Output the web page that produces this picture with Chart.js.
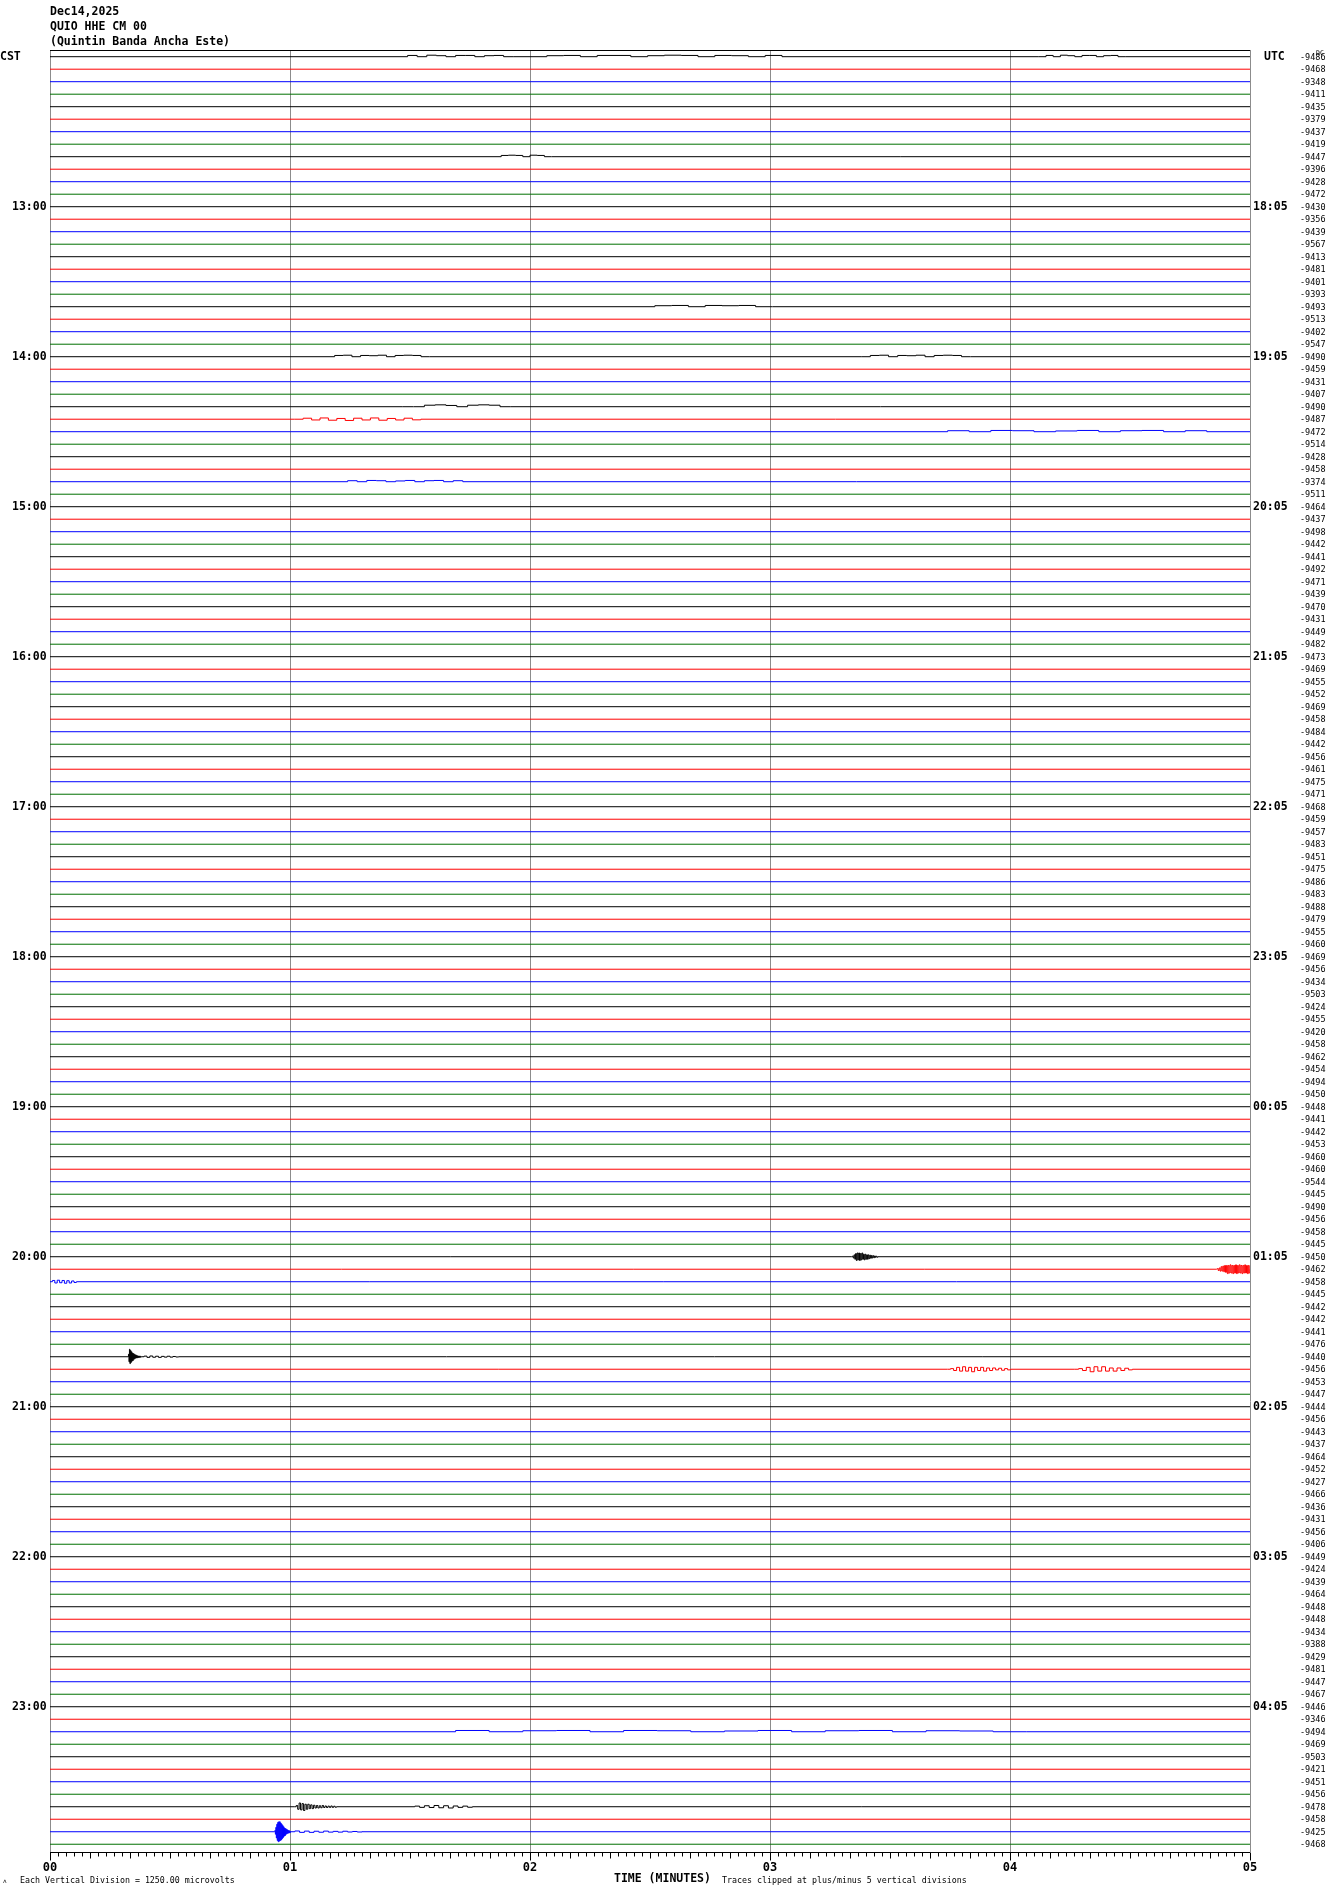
<!DOCTYPE html>
<html>
<head>
<meta charset="utf-8">
<script src="https://cdn.jsdelivr.net/npm/chart.js@4.4.1/dist/chart.umd.min.js"></script>
<style>
  html, body { margin: 0; padding: 0; background: #fff; }
  #wrap { position: relative; width: 1330px; height: 1894px; }
</style>
</head>
<body>
<div id="wrap"><canvas id="heli" width="1330" height="1894"></canvas></div>
<script>
// -------- DATA --------
const headerLines = ["Dec14,2025", "QUIO HHE CM 00", "(Quintin Banda Ancha Este)"];
const cstLabels = ["13:00", "14:00", "15:00", "16:00", "17:00", "18:00", "19:00", "20:00", "21:00", "22:00", "23:00"];
const utcLabels = ["18:05", "19:05", "20:05", "21:05", "22:05", "23:05", "00:05", "01:05", "02:05", "03:05", "04:05"];
const minuteLabels = ["00", "01", "02", "03", "04", "05"];
const rowOffsets = [
  -9486, -9468, -9348, -9411, -9435, -9379, -9437, -9419, -9447, -9396, -9428, -9472,
  -9430, -9356, -9439, -9567, -9413, -9481, -9401, -9393, -9493, -9513, -9402, -9547,
  -9490, -9459, -9431, -9407, -9490, -9487, -9472, -9514, -9428, -9458, -9374, -9511,
  -9464, -9437, -9498, -9442, -9441, -9492, -9471, -9439, -9470, -9431, -9449, -9482,
  -9473, -9469, -9455, -9452, -9469, -9458, -9484, -9442, -9456, -9461, -9475, -9471,
  -9468, -9459, -9457, -9483, -9451, -9475, -9486, -9483, -9488, -9479, -9455, -9460,
  -9469, -9456, -9434, -9503, -9424, -9455, -9420, -9458, -9462, -9454, -9494, -9450,
  -9448, -9441, -9442, -9453, -9460, -9460, -9544, -9445, -9490, -9456, -9458, -9445,
  -9450, -9462, -9458, -9445, -9442, -9442, -9441, -9476, -9440, -9456, -9453, -9447,
  -9444, -9456, -9443, -9437, -9464, -9452, -9427, -9466, -9436, -9431, -9456, -9406,
  -9449, -9424, -9439, -9464, -9448, -9448, -9434, -9388, -9429, -9481, -9447, -9467,
  -9446, -9346, -9494, -9469, -9503, -9421, -9451, -9456, -9478, -9458, -9425, -9468
];
const traceColors = ["#000000", "#ff0000", "#0000ff", "#007000"];

// event wiggles, amplitude in trace spacings (up = positive)
const quake20_00 = [0.05, -0.1, 0.15, -0.2, 0.25, -0.3, 0.3, -0.25, 0.3, -0.3, 0.25, -0.25, 0.3, -0.2, 0.2, -0.25,
  0.2, -0.2, 0.15, -0.2, 0.15, -0.15, 0.12, -0.12, 0.1, -0.1, 0.08, -0.08, 0.06, -0.05, 0.04, -0.04];
const noise20_05 = [0.05, -0.1, 0.1, -0.15, 0.2, -0.15, 0.25, -0.2, 0.3, -0.25, 0.3, -0.35, 0.3, -0.3, 0.35, -0.3,
  0.3, -0.35, 0.3, -0.3, 0.35, -0.35, 0.3, -0.3, 0.35, -0.3, 0.3, -0.35, 0.3, -0.3, 0.35, -0.3, 0.3, -0.35, 0.3, -0.3];
const quake20_40 = [0.2, -0.4, 0.6, -0.55, 0.5, -0.45, 0.4, -0.35, 0.3, -0.3, 0.25, -0.2, 0.2, -0.15, 0.15, -0.1,
  0.12, -0.1, 0.08, -0.08, 0.06, -0.06, 0.05, -0.05, 0.04, -0.04];
const coda20_40 = [0.05, -0.05, 0.06, -0.04, 0.04, -0.05, 0.03, -0.03, 0.04, -0.03, 0.02, -0.02];
const wiggle20_45a = [0.05, -0.1, 0.15, -0.15, 0.2, -0.15, 0.15, -0.2, 0.15, -0.1, 0.15, -0.15, 0.1, -0.1, 0.1,
  -0.05, 0.08, -0.08, 0.05, -0.05];
const wiggle20_45b = [0.05, -0.1, 0.15, -0.2, 0.2, -0.15, 0.2, -0.15, 0.1, -0.15, 0.1, -0.1, 0.08, -0.05];
const quake23_40 = [0.1, -0.2, 0.3, -0.25, 0.25, -0.3, 0.2, -0.2, 0.2, -0.15, 0.15, -0.15, 0.12, -0.1, 0.1, -0.1,
  0.08, -0.08, 0.1, -0.06, 0.06, -0.06, 0.05, -0.05, 0.06, -0.05, 0.04, -0.04];
const coda23_40 = [0.05, -0.05, 0.08, -0.06, 0.1, -0.08, 0.08, -0.1, 0.06, -0.05, 0.05, -0.04];
const quake23_50 = [0.1, -0.2, 0.35, -0.5, 0.6, -0.7, 0.75, -0.8, 0.8, -0.75, 0.8, -0.7, 0.7, -0.65, 0.6, -0.55,
  0.5, -0.45, 0.4, -0.35, 0.3, -0.3, 0.25, -0.2, 0.2, -0.15, 0.15, -0.12, 0.1, -0.1, 0.08, -0.08];
const coda23_50 = [0.06, -0.05, 0.05, -0.05, 0.04, -0.04, 0.05, -0.03, 0.03, -0.03, 0.04, -0.02, 0.02, -0.02];
const noise20_10 = [0.1, -0.1, 0.12, -0.08, 0.1, -0.12, 0.08, -0.1, 0.06, -0.06];
const noise14_25 = [0.08, -0.06, 0.1, -0.08, 0.06, -0.1, 0.08, -0.06, 0.1, -0.08, 0.06, -0.06, 0.08, -0.05];

// low background chatter seen on some traces
const chatter12_00a = [0.1, 0, 0.12, 0.08, 0, 0.1, 0.1, 0, 0.08, 0.1, 0];
const chatter12_00b = [0.08, 0.1, 0, 0.1, 0.1, 0, 0.08, 0.12, 0.1, 0, 0.1, 0.08, 0, 0.1];
const chatter14_00 = [0.1, 0.12, 0, 0.1, 0.08, 0.12, 0, 0.1, 0.12, 0.1, 0];
const chatter14_20 = [0, 0.12, 0.15, 0.1, 0, 0.12, 0.15, 0.12, 0];
const chatter14_30 = [0.08, 0, 0.1, 0.08, 0, 0.06, 0.1, 0, 0.08, 0.1, 0, 0.08];
const chatter23_10 = [0.1, 0, 0.08, 0.1, 0, 0.1, 0.08, 0, 0.06, 0.1, 0, 0.08, 0.1, 0, 0.08, 0.06, 0];
const chatter12_40 = [0.1, 0.12, 0.1, 0, 0.12, 0.1, 0];
const chatter13_40 = [0.08, 0.1, 0, 0.1, 0.08, 0.1, 0];

const events = [
  { row: 96, start: 3.34, step: 0.0033, amp: quake20_00 },
  { row: 97, start: 4.86, step: 0.0038, amp: noise20_05 },
  { row: 104, start: 0.325, step: 0.002, amp: quake20_40 },
  { row: 104, start: 0.38, step: 0.012, amp: coda20_40 },
  { row: 105, start: 3.74, step: 0.0125, amp: wiggle20_45a },
  { row: 105, start: 4.27, step: 0.016, amp: wiggle20_45b },
  { row: 140, start: 1.02, step: 0.006, amp: quake23_40 },
  { row: 140, start: 1.5, step: 0.02, amp: coda23_40 },
  { row: 142, start: 0.935, step: 0.002, amp: quake23_50 },
  { row: 142, start: 1.0, step: 0.02, amp: coda23_50 },
  { row: 98, start: 0.0, step: 0.01, amp: noise20_10 },
  { row: 29, start: 1.02, step: 0.035, amp: noise14_25 },
  { row: 0, start: 1.45, step: 0.04, amp: chatter12_00a },
  { row: 0, start: 2.0, step: 0.07, amp: chatter12_00b },
  { row: 0, start: 4.12, step: 0.03, amp: chatter12_00a },
  { row: 8, start: 1.85, step: 0.03, amp: chatter12_40 },
  { row: 20, start: 2.45, step: 0.07, amp: chatter13_40 },
  { row: 24, start: 1.15, step: 0.036, amp: chatter14_00 },
  { row: 24, start: 3.38, step: 0.038, amp: chatter14_00 },
  { row: 28, start: 1.47, step: 0.045, amp: chatter14_20 },
  { row: 30, start: 3.65, step: 0.09, amp: chatter14_30 },
  { row: 34, start: 1.2, step: 0.04, amp: chatter14_30 },
  { row: 134, start: 1.55, step: 0.14, amp: chatter23_10 }
];

// -------- DATASETS --------
const datasets = rowOffsets.map((off, i) => {
  const pts = [{ x: 0, y: i }];
  events.filter(e => e.row === i).sort((a, b) => a.start - b.start).forEach(e => {
    pts.push({ x: e.start, y: i });
    e.amp.forEach((a, k) => pts.push({ x: e.start + (k + 1) * e.step, y: i - a }));
    pts.push({ x: e.start + (e.amp.length + 1) * e.step, y: i });
  });
  pts.push({ x: 5, y: i });
  return {
    data: pts,
    borderColor: traceColors[i % 4],
    borderWidth: 1,
    pointRadius: 0,
    tension: 0,
    fill: false,
    stepped: true
  };
});

// -------- DECORATION --------
const heliPlugin = {
  id: "heli",
  beforeDatasetsDraw(chart) {
    const { ctx, chartArea: a, scales: { x } } = chart;
    ctx.save();
    ctx.strokeStyle = "#8c8c8c";
    ctx.lineWidth = 1;
    for (let m = 0; m <= 5; m++) {
      const px = Math.round(x.getPixelForValue(m)) + 0.5;
      ctx.beginPath();
      ctx.moveTo(px, a.top);
      ctx.lineTo(px, a.bottom);
      ctx.stroke();
    }
    ctx.strokeStyle = "#000";
    ctx.beginPath();
    ctx.moveTo(a.left, a.top + 0.5);
    ctx.lineTo(a.right, a.top + 0.5);
    ctx.stroke();
    ctx.restore();
  },
  afterDatasetsDraw(chart) {
    const { ctx, chartArea: a, scales: { x, y } } = chart;
    ctx.save();
    ctx.fillStyle = "#000";
    ctx.textBaseline = "middle";

    // header
    ctx.font = "bold 11.5px 'DejaVu Sans Mono'";
    ctx.textAlign = "left";
    headerLines.forEach((t, k) => ctx.fillText(t, 50, 12 + k * 15));

    // left / right side labels
    ctx.fillText("CST", 0, y.getPixelForValue(0));
    ctx.fillText("UTC", 1264, y.getPixelForValue(0));
    cstLabels.forEach((t, k) => ctx.fillText(t, 12, y.getPixelForValue((k + 1) * 12)));
    utcLabels.forEach((t, k) => ctx.fillText(t, 1253, y.getPixelForValue((k + 1) * 12)));

    ctx.font = "8.5px 'DejaVu Sans Mono'";
    rowOffsets.forEach((v, i) => ctx.fillText(String(v), 1300, y.getPixelForValue(i) + 1));
    ctx.font = "6.5px 'DejaVu Sans Mono'";
    ctx.fillText("DC", 1316, y.getPixelForValue(0) - 3);

    // time axis
    const base = a.bottom + 0.5;
    ctx.strokeStyle = "#000";
    ctx.lineWidth = 1;
    ctx.beginPath();
    ctx.moveTo(a.left, base);
    ctx.lineTo(a.right, base);
    for (let s = 0; s <= 300; s += 2) {
      const px = Math.round(x.getPixelForValue(s / 60)) + 0.5;
      const len = s % 60 === 0 ? 8 : (s % 10 === 0 ? 6 : 4);
      ctx.moveTo(px, base);
      ctx.lineTo(px, base + len);
    }
    ctx.stroke();

    ctx.font = "bold 12px 'DejaVu Sans Mono'";
    ctx.textAlign = "center";
    minuteLabels.forEach((t, m) => ctx.fillText(t, x.getPixelForValue(m), base + 15));

    ctx.textAlign = "left";
    ctx.font = "bold 11.5px 'DejaVu Sans Mono'";
    ctx.fillText("TIME (MINUTES)", 614, base + 27);
    ctx.font = "8.3px 'DejaVu Sans Mono'";
    ctx.fillText("Traces clipped at plus/minus 5 vertical divisions", 722, base + 28);
    ctx.fillText("Each Vertical Division = 1250.00 microvolts", 20, base + 28);
    ctx.font = "6px 'DejaVu Sans Mono'";
    ctx.fillText("\u028C", 3, base + 29);
    ctx.restore();
  }
};

new Chart(document.getElementById("heli"), {
  type: "line",
  data: { datasets },
  options: {
    responsive: false,
    animation: false,
    events: [],
    parsing: false,
    layout: { padding: { left: 50, right: 80, top: 50, bottom: 42 } },
    scales: {
      x: { type: "linear", min: 0, max: 5, display: false },
      y: { type: "linear", min: -0.536, max: 143.62, reverse: true, display: false }
    },
    plugins: { legend: { display: false }, tooltip: { enabled: false } }
  },
  plugins: [heliPlugin]
});
</script>
</body>
</html>
